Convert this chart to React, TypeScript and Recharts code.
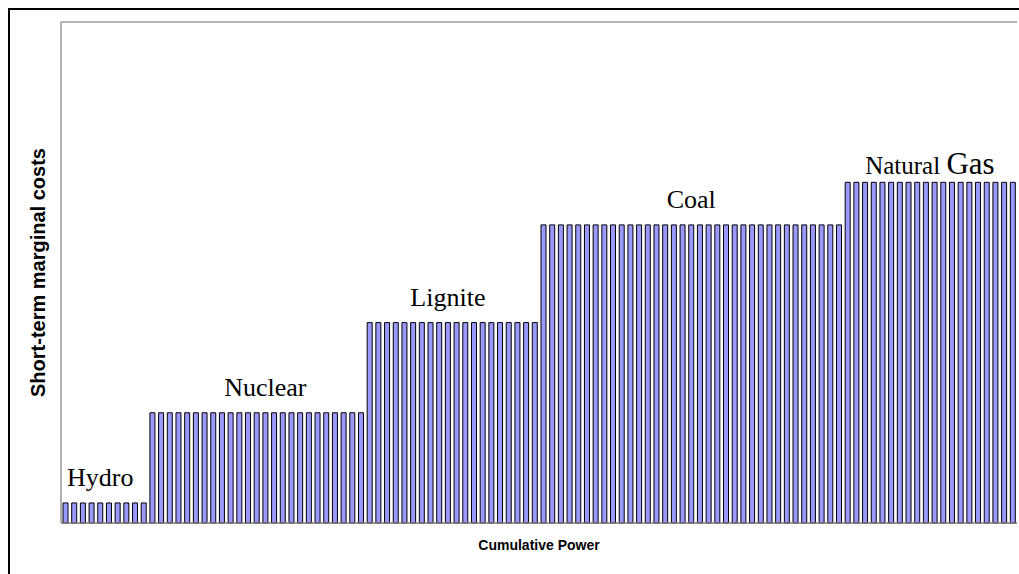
import { BarChart, Bar, XAxis, YAxis, LabelList, Label, ReferenceLine } from "recharts"

// fuel types in merit order, how many plant units each has, and their marginal cost level
const FUELS = ["Hydro", "Nuclear", "Lignite", "Coal", "Natural Gas"]
const UNIT_COUNTS = [10, 25, 20, 35, 20]
const COSTS = [4, 22, 40, 59.5, 68]
// which unit of each block carries the block name
const LABEL_UNIT = [4, 13, 9, 17, 9]

const data: any[] = []
FUELS.forEach((fuel, g) => {
  for (let i = 0; i < UNIT_COUNTS[g]; i++) {
    data.push({
      unit: `${fuel} ${i + 1}`,
      cost: COSTS[g],
      label: i === LABEL_UNIT[g] ? fuel : null,
    })
  }
})

const FRAME = "#999999"
const SERIF = "'Liberation Serif', 'Times New Roman', serif"
const SANS = "'Liberation Sans', Arial, sans-serif"

const FuelLabel = (props: any) => {
  const { x, y, width, value } = props
  if (!value) return null
  const cx = x + width / 2
  if (value === "Natural Gas") {
    return (
      <text x={cx + 4} y={y - 8} textAnchor="middle" fontFamily={SERIF} fill="#000">
        <tspan fontSize={25}>Natural </tspan>
        <tspan fontSize={31}>Gas</tspan>
      </text>
    )
  }
  return (
    <text x={cx} y={y - 17} textAnchor="middle" fontSize={26} fontFamily={SERIF} fill="#000">
      {value}
    </text>
  )
}

const YTitle = ({ viewBox }: any) => {
  const cx = viewBox.x + 35
  const cy = viewBox.y + viewBox.height / 2
  return (
    <text x={cx} y={cy} transform={`rotate(-90 ${cx} ${cy})`} textAnchor="middle" fontSize={20} fontWeight="bold" fontFamily={SANS} fill="#000">
      Short-term marginal costs
    </text>
  )
}

const XTitle = ({ viewBox }: any) => {
  const cx = viewBox.x + viewBox.width / 2
  return (
    <text x={cx} y={viewBox.y + 27} textAnchor="middle" fontSize={14} fontWeight="bold" fontFamily={SANS} fill="#000">
      Cumulative Power
    </text>
  )
}

export default function App() {
  return (
    <div style={{ width: 1019, height: 574, paddingTop: 8, paddingLeft: 8, boxSizing: "border-box", background: "#fff", overflow: "hidden" }}>
      <style>{`html, body { margin: 0; overflow: hidden; }`}</style>
      <div style={{ width: 1011, height: 566, borderTop: "2px solid #000", borderLeft: "2px solid #000", boxSizing: "border-box" }}>
        <BarChart width={1009} height={564} data={data} margin={{ top: 12, right: 2, left: 0, bottom: 0 }} barSize={5}>
          <XAxis dataKey="unit" height={51} tick={false} tickLine={false} axisLine={{ stroke: "#777", strokeWidth: 1.5 }}>
            <Label content={<XTitle />} />
          </XAxis>
          <YAxis domain={[0, 100]} width={51} tick={false} tickLine={false} axisLine={{ stroke: FRAME, strokeWidth: 1.5 }}>
            <Label content={<YTitle />} />
          </YAxis>
          <ReferenceLine y={100} stroke={FRAME} strokeWidth={1.5} />
          <ReferenceLine x={data[data.length - 1].unit} position="end" stroke={FRAME} strokeWidth={1.5} />
          <Bar dataKey="cost" fill="#9999FF" stroke="#000" strokeWidth={1} isAnimationActive={false}>
            <LabelList dataKey="label" content={<FuelLabel />} />
          </Bar>
        </BarChart>
      </div>
    </div>
  )
}
